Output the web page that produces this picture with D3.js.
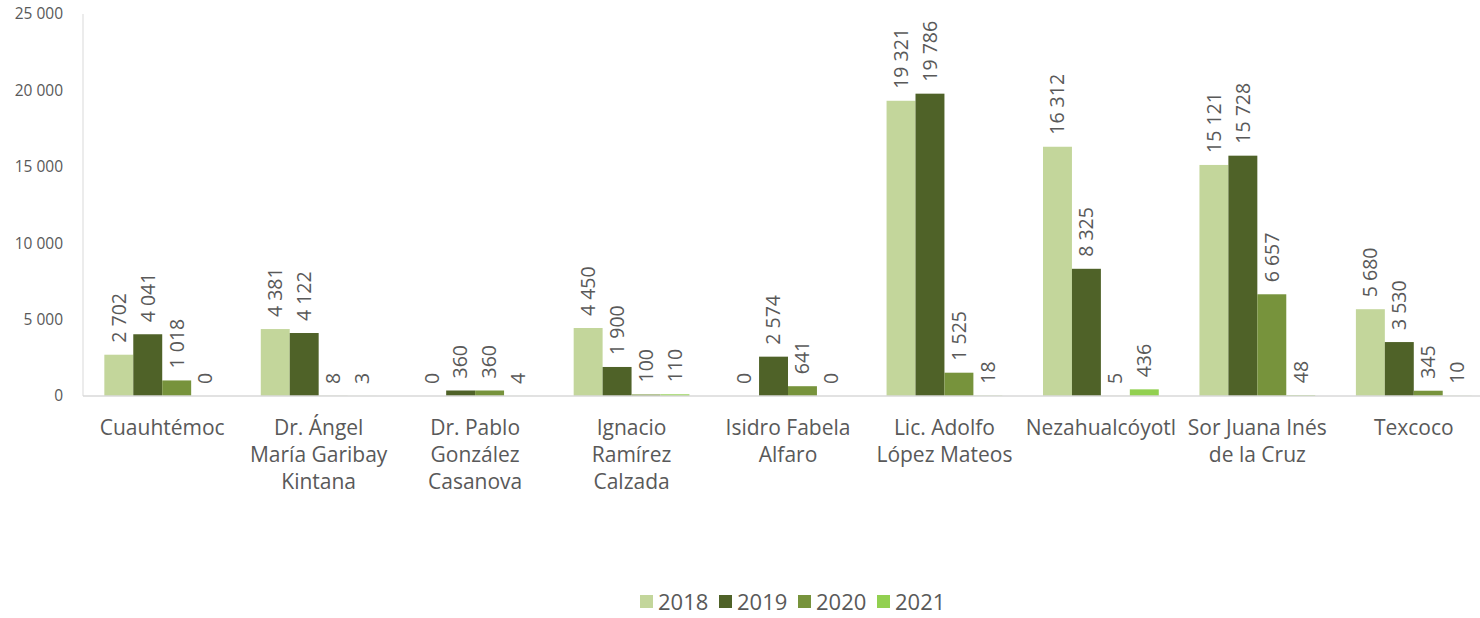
<!DOCTYPE html>
<html>
<head>
<meta charset="utf-8">
<script src="https://cdn.jsdelivr.net/npm/d3@7"></script>
<style>
  body { margin: 0; background: #fff; }
  text { font-family: "Open Sans", "Liberation Sans", sans-serif; fill: #595959; }
</style>
</head>
<body>
<div id="chart"></div>
<script>
const categories = [
  "Cuauhtémoc",
  "Dr. Ángel|María Garibay|Kintana",
  "Dr. Pablo|González|Casanova",
  "Ignacio|Ramírez|Calzada",
  "Isidro Fabela|Alfaro",
  "Lic. Adolfo|López Mateos",
  "Nezahualcóyotl",
  "Sor Juana Inés|de la Cruz",
  "Texcoco"
];
const years = ["2018", "2019", "2020", "2021"];
const v2018 = [2702, 4381, 0, 4450, 0, 19321, 16312, 15121, 5680];
const v2019 = [4041, 4122, 360, 1900, 2574, 19786, 8325, 15728, 3530];
const v2020 = [1018, 8, 360, 100, 641, 1525, 5, 6657, 345];
const v2021 = [0, 3, 4, 110, 0, 18, 436, 48, 10];
const yTicks = [0, 5000, 10000, 15000, 20000, 25000];
const colors = ["#c3d69b", "#4f6228", "#77933c", "#92d050"];

(function () {
  const width = 1480, height = 618;
  const series = [v2018, v2019, v2020, v2021];
  const fmt = v => d3.format(",")(v).replace(/,/g, " ");

  const svg = d3.select("#chart").append("svg")
    .attr("width", width)
    .attr("height", height);

  const x0 = d3.scaleBand()
    .domain(d3.range(categories.length))
    .range([84, 1492])
    .paddingInner(0.26)
    .paddingOuter(0.13);

  const x1 = d3.scaleBand()
    .domain(years)
    .range([0, x0.bandwidth()]);

  const y = d3.scaleLinear().domain([0, 25000]).range([396, 14]);

  // axis lines
  svg.append("line")
    .attr("x1", 83).attr("x2", 83)
    .attr("y1", y(25000)).attr("y2", y(0))
    .attr("stroke", "#d9d9d9").attr("stroke-width", 1);

  // y tick labels
  svg.selectAll("text.ytick")
    .data(yTicks)
    .join("text")
      .attr("class", "ytick")
      .attr("x", 63)
      .attr("y", d => y(d))
      .attr("dy", "0.35em")
      .attr("text-anchor", "end")
      .style("font-size", "15.5px")
      .text(fmt);

  const groups = svg.selectAll("g.cat")
    .data(categories.map((c, i) => i))
    .join("g")
      .attr("class", "cat")
      .attr("transform", i => `translate(${x0(i)},0)`);

  const cells = groups.selectAll("g.cell")
    .data(i => years.map((yr, k) => ({ yr, k, v: series[k][i] })))
    .join("g")
      .attr("class", "cell");

  cells.append("rect")
    .attr("x", d => x1(d.yr))
    .attr("width", x1.bandwidth())
    .attr("y", d => y(d.v))
    .attr("height", d => y(0) - y(d.v))
    .attr("fill", d => colors[d.k]);

  cells.append("text")
    .attr("transform", d => `translate(${x1(d.yr) + x1.bandwidth() / 2},${y(d.v) - 12}) rotate(-90)`)
    .attr("dy", "0.35em")
    .attr("text-anchor", "start")
    .style("font-size", "19.5px")
    .text(d => fmt(d.v));

  svg.append("line")
    .attr("x1", 83).attr("x2", width)
    .attr("y1", y(0)).attr("y2", y(0))
    .attr("stroke", "#d9d9d9").attr("stroke-width", 1.5);

  // category labels
  const catText = svg.selectAll("text.cat")
    .data(categories)
    .join("text")
      .attr("class", "cat")
      .attr("text-anchor", "middle")
      .style("font-size", "21px");

  catText.selectAll("tspan")
    .data((d, i) => d.split("|").map(t => ({ t, i })))
    .join("tspan")
      .attr("x", d => x0(d.i) + x0.bandwidth() / 2)
      .attr("y", (d, j) => 428 + j * 27)
      .attr("dy", "0.35em")
      .text(d => d.t);

  // legend
  const legend = svg.append("g");
  const item = legend.selectAll("g")
    .data(years)
    .join("g")
      .attr("transform", (d, i) => `translate(${640 + i * 79},602)`);
  item.append("rect")
    .attr("x", 0).attr("y", -7)
    .attr("width", 13).attr("height", 13)
    .attr("fill", (d, i) => colors[i]);
  item.append("text")
    .attr("x", 18)
    .attr("dy", "0.35em")
    .style("font-size", "22px")
    .text(d => d);
})();
</script>
</body>
</html>
